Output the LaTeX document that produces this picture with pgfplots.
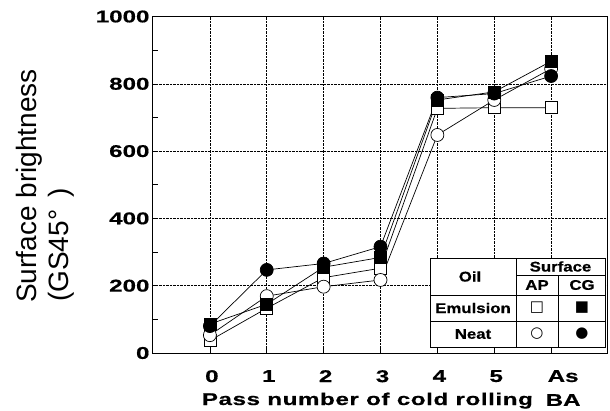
\documentclass[border=0pt]{standalone}
\usepackage{fontspec}
\setmainfont{Liberation Sans}
\newfontfamily\wideb[FakeStretch=1.42, FakeBold=0.6]{Liberation Sans Bold}
\newfontfamily\widebx[FakeStretch=1.42, FakeBold=0.6, LetterSpace=3.5]{Liberation Sans Bold}
\newfontfamily\tableb[FakeStretch=1.2, FakeBold=0.6]{Liberation Sans Bold}
\newfontfamily\sym{DejaVu Sans}
\usepackage{pgfplots}
\pgfplotsset{compat=1.18}

\pgfplotstableread{
x y
0 37
1 133
2 224
3 252
4 727
5 729
6 729
}\apEmul
\pgfplotstableread{
x y
0 53
1 169
2 197
3 217
4 648
5 752
6 845
}\apNeat
\pgfplotstableread{
x y
0 86
1 145
2 255
3 284
4 752
5 776
6 867
}\cgEmul
\pgfplotstableread{
x y
0 80
1 247
2 266
3 316
4 759
5 771
6 823
}\cgNeat

\begin{document}
\begin{tikzpicture}
\path (-153pt,-57pt) rectangle (457pt,353pt);
\begin{axis}[
  at={(0pt,0pt)}, anchor=south west,
  scale only axis, width=455pt, height=336.5pt,
  xmin=-1, xmax=7, ymin=0, ymax=1000,
  xtick={0,...,5}, xticklabels={0,1,2,3,4,5},
  extra x ticks={6}, extra x tick labels={{As\\BA}},
  extra x tick style={grid=major, xticklabel style={xshift=10pt}},
  ytick={0,200,...,1000}, minor y tick num=1,
  grid=major, major grid style={densely dotted, black, line width=0.5pt},
  tick align=inside, xtick pos=left, ytick pos=left,
  major tick length=5pt, minor tick length=5pt,
  axis line style={black, line width=1pt},
  tick style={black, line width=0.6pt},
  ticklabel style={font={\wideb\fontsize{17}{24}\selectfont}},
  xticklabel style={align=center, inner sep=0pt, yshift=-17pt, xshift=2pt},
  /pgf/number format/assume math mode=true,
  /pgf/number format/1000 sep={},
  clip=false,
  every axis plot/.append style={black, line width=0.7pt},
]
\addplot[mark=square*, mark size=6pt, mark options={fill=white, draw=black, line width=0.7pt}] table {\apEmul};
\addplot[mark=*, mark size=6.5pt, mark options={fill=white, draw=black, line width=0.7pt}] table {\apNeat};
\addplot[mark=square*, mark size=6pt, mark options={fill=black, draw=black}] table {\cgEmul};
\addplot[mark=*, mark size=6.5pt, mark options={fill=black, draw=black}] table {\cgNeat};
\end{axis}
% axis labels
\node[anchor=base west, font={\widebx\fontsize{17}{24}\selectfont}, inner sep=0pt] at (48.7pt,-52pt) {Pass number of cold rolling};
\node[rotate=90, anchor=base west, inner sep=0pt, font={\fontsize{28}{34}\selectfont}] at (-116pt,50pt) {Surface brightness};
\node[rotate=90, anchor=base west, inner sep=0pt, font={\fontsize{28}{34}\selectfont}] at (-84pt,51pt) {(GS45°\ \,)};
% legend table
\draw[fill=white, line width=0.8pt] (277pt,6pt) rectangle (452pt,95pt);
\draw[line width=0.8pt] (363pt,6pt) -- (363pt,95pt);
\draw[line width=0.8pt] (405.5pt,6pt) -- (405.5pt,78pt);
\draw[line width=0.8pt] (363pt,78pt) -- (452pt,78pt);
\draw[line width=0.8pt] (277pt,58pt) -- (452pt,58pt);
\draw[line width=0.8pt] (277pt,32pt) -- (452pt,32pt);
\begin{scope}[every node/.style={font={\tableb\fontsize{14}{16}\selectfont}, inner sep=0pt}]
\node at (317pt,76.5pt) {Oil};
\node at (407.5pt,86.5pt) {Surface};
\node at (384pt,68pt) {AP};
\node at (429pt,68pt) {CG};
\node at (320pt,45pt) {Emulsion};
\node at (320pt,19pt) {Neat};
\end{scope}
\begin{scope}[every node/.style={font={\sym\fontsize{15}{16}\selectfont}, inner sep=0pt}]
\node at (384pt,45pt) {□};
\node at (429pt,45pt) {■};
\node at (384pt,19pt) {○};
\node at (429pt,19pt) {●};
\end{scope}
\end{tikzpicture}
\end{document}
